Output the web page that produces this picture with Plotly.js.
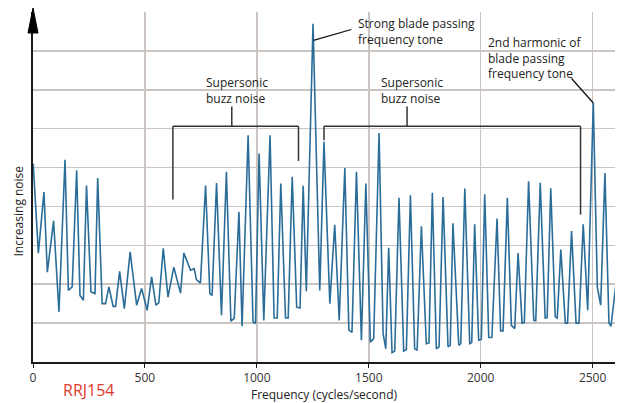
<!DOCTYPE html>
<html>
<head>
<meta charset="utf-8">
<script src="https://cdn.plot.ly/plotly-3.0.1.min.js"></script>
<style>html,body{margin:0;padding:0;background:#fff;}#chart{width:619px;height:403px;}</style>
</head>
<body>
<div id="chart"></div>
<script>
const frequency = [1,24,49,64,92,116,143,158,175,195,210,225,239,259,277,289,309,324,339,358,369,387,408,434,463,485,510,530,549,562,582,603,629,659,674,704,720,730,748,771,790,800,820,842,864,884,899,920,934,961,983,994,1010,1031,1059,1077,1091,1107,1128,1140,1158,1178,1193,1207,1221,1251,1281,1300,1326,1348,1368,1393,1411,1425,1445,1467,1487,1507,1522,1546,1564,1576,1589,1604,1616,1635,1656,1668,1686,1705,1716,1735,1757,1769,1784,1802,1814,1832,1854,1864,1876,1902,1911,1929,1951,1960,1973,1991,2003,2018,2036,2050,2073,2089,2100,2119,2137,2152,2167,2185,2195,2214,2237,2246,2266,2288,2297,2313,2333,2342,2358,2378,2388,2406,2426,2439,2458,2478,2503,2521,2536,2555,2573,2582,2607];
const noise = [5.1,2.8,4.37,2.31,3.63,1.29,5.2,1.84,1.93,4.93,1.71,1.59,4.54,1.8,1.76,4.73,1.5,1.5,1.93,1.43,1.43,2.33,1.37,2.83,1.46,1.89,1.33,2.19,1.46,1.52,2.92,1.67,2.44,1.77,2.8,2.36,2.4,2.12,2.03,4.54,1.76,1.71,4.6,1.2,4.89,1.05,1.12,3.86,0.92,5.83,1.03,0.99,5.36,1.07,5.83,1.13,1.13,4.59,1.13,1.13,4.76,1.41,1.39,4.53,1.82,8.7,1.84,5.66,1.5,3.53,1.07,4.99,0.82,0.76,4.89,0.56,4.59,0.51,0.6,5.89,0.73,0.34,2.94,0.24,0.28,4.22,0.28,0.32,4.29,0.34,0.3,3.49,0.47,0.49,4.35,0.34,0.39,4.24,0.39,0.43,3.57,0.43,0.47,4.46,0.47,0.5,3.54,0.56,0.58,4.31,0.63,0.63,3.69,0.8,0.8,4.22,0.94,0.86,2.8,1.0,1.02,4.65,1.07,1.06,4.61,1.13,1.14,4.47,1.16,1.13,2.89,1.0,1.0,3.37,1.0,1.0,3.54,1.33,6.66,1.93,1.46,4.86,1.0,0.92,2.14];
const xTicks = [0,500,1000,1500,2000,2500];
const xTickLabels = ["0","500","1000","1500","2000","2500"];

const FONT = "Open Sans, Noto Sans, sans-serif";
const trace = {
  x: frequency, y: noise, type: "scatter", mode: "lines",
  line: {color: "#2b6d99", width: 1.6}, hoverinfo: "skip"
};

function seg(x0,y0,x1,y1,w,c){return {type:"line",xref:"x",yref:"y",x0:x0,y0:y0,x1:x1,y1:y1,line:{color:c||"#333",width:w||1.5}};}
const shapes = [
  // bracket 1
  seg(625,6.06,1186,6.06), seg(625,6.06,625,4.18), seg(1186,6.06,1186,5.17), seg(888,6.06,888,6.57),
  // bracket 2
  seg(1300,6.06,2446,6.06), seg(1300,6.06,1300,5.70), seg(2446,6.06,2446,3.79), seg(1671,6.06,1671,6.57),
  // pointers
  seg(1422,8.55,1253,8.27,1.3,"#111"), seg(2406,7.29,2503,6.66,1.3,"#111"),
  // y axis arrow head
  {type:"path",xref:"paper",yref:"paper",xsizemode:"pixel",ysizemode:"pixel",xanchor:0,yanchor:1,
   path:"M -5,-21 L 0,4 L 5,-21 Z",fillcolor:"#000",line:{color:"#000",width:1}}
];

const annFont = {family: FONT, size: 12, color: "#222"};
const annotations = [
  {x:912,y:6.99,xref:"x",yref:"y",text:"Supersonic<br>buzz noise",showarrow:false,font:annFont,align:"left"},
  {x:1692,y:6.99,xref:"x",yref:"y",text:"Supersonic<br>buzz noise",showarrow:false,font:annFont,align:"left"},
  {x:1443,y:8.49,xref:"x",yref:"y",xanchor:"left",text:"Strong blade passing<br>frequency tone",showarrow:false,font:annFont,align:"left"},
  {x:2022,y:7.82,xref:"x",yref:"y",xanchor:"left",text:"2nd harmonic of<br>blade passing<br>frequency tone",showarrow:false,font:annFont,align:"left"},
  {x:0,y:0.43,xref:"paper",yref:"paper",xanchor:"center",yanchor:"middle",xshift:-15,text:"Increasing noise",textangle:-90,showarrow:false,font:{family:FONT,size:12,color:"#222"}},
  {x:0.0958,y:-0.081,xref:"paper",yref:"paper",xanchor:"center",yanchor:"middle",text:"RRJ154",showarrow:false,font:{family:FONT,size:16,color:"#e0392b"}}
];

const layout = {
  width: 619, height: 403,
  margin: {l: 33, r: 4, t: 12, b: 41, pad: 0},
  paper_bgcolor: "#fff", plot_bgcolor: "#fff",
  showlegend: false,
  xaxis: {
    range: [0, 2600], tickvals: xTicks, ticktext: xTickLabels,
    showgrid: true, gridcolor: "#cbc4c1", gridwidth: 1.5,
    showline: true, linecolor: "#1a1a1a", linewidth: 2,
    ticks: "outside", ticklen: 4, tickcolor: "#1a1a1a",
    tickfont: {family: FONT, size: 12, color: "#333"},
    zeroline: false,
    title: {text: "Frequency (cycles/second)", font: {family: FONT, size: 12, color: "#222"}, standoff: 4}
  },
  yaxis: {
    range: [0, 9], dtick: 1, tick0: 0, showticklabels: false,
    showgrid: true, gridcolor: "#cbc4c1", gridwidth: 1.5,
    showline: true, linecolor: "#1a1a1a", linewidth: 2,
    zeroline: false, ticks: ""
  },
  shapes: shapes,
  annotations: annotations
};
Plotly.newPlot("chart", [trace], layout, {displayModeBar: false, staticPlot: true});
</script>
</body>
</html>
